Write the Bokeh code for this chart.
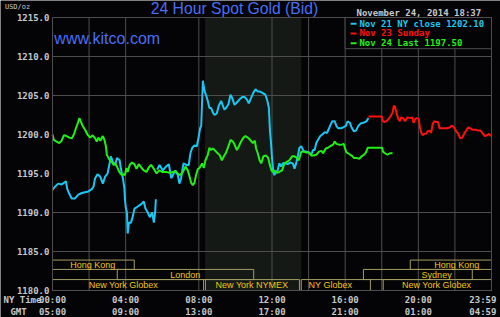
from bokeh.plotting import figure
from bokeh.models import Range1d
from bokeh.core.properties import value
from bokeh.embed import file_html
from bokeh.resources import INLINE

NAN = float("nan")

# ---- data (hours since 00:00 NY time, USD/oz) ----
cyan_hours = [
    0.00, 0.13, 0.31, 0.50, 0.68, 0.73, 0.81, 0.92, 1.05, 1.23,
    1.41, 1.60, 1.78, 1.96, 2.15, 2.24, 2.33, 2.46, 2.61, 2.75,
    2.88, 3.01, 3.12, 3.19, 3.30, 3.43, 3.52, 3.67, 3.74, 3.85,
    3.93, 3.96, 4.00, 4.07, 4.11, 4.18, 4.29, 4.40, 4.48, 4.62,
    4.81, 4.99, 5.08, 5.21, 5.32, 5.45, 5.54, 5.61, 5.65, 5.68,
    5.72, 5.85, 6.03, 6.21, 6.36, 6.49, 6.58, 6.72, 6.85, 6.94,
    7.03, 7.16, 7.31, 7.45, 7.54, 7.64, 7.76, 7.89, 8.00, 8.07,
    8.13, 8.16, 8.22, 8.31, 8.40, 8.49, 8.58, 8.67, 8.77, 8.86,
    8.98, 9.09, 9.22, 9.31, 9.40, 9.49, 9.62, 9.73, 9.82, 9.95,
    10.08, 10.22, 10.37, 10.50, 10.62, 10.73, 10.86, 10.99, 11.10, 11.22,
    11.35, 11.50, 11.64, 11.75, 11.83, 11.89, 11.94, 12.00, 12.07, 12.13,
    12.22, 12.31, 12.40, 12.50, 12.59, 12.73, 12.86, 12.99, 13.14, 13.23,
    13.32, 13.41, 13.50, 13.60, 13.72, 13.87, 14.02, 14.15, 14.24, 14.33,
    14.42, 14.51, 14.64, 14.75, 14.88, 15.01, 15.12, 15.21, 15.30, 15.43,
    15.52, 15.61, 15.74, 15.89, 16.04, 16.13, 16.26, 16.35, 16.48, 16.59,
    16.72, 16.84, 16.99, 17.17, 17.27]
cyan_values = [
    1192.9, 1193.3, 1193.7, 1193.6, 1193.9, 1194.0, 1193.0, 1192.4, 1191.8, 1191.8,
    1192.3, 1192.5, 1192.6, 1192.7, 1193.0, 1193.3, 1194.4, 1194.9, 1194.6, 1193.7,
    1194.6, 1195.0, 1196.3, 1197.2, 1196.5, 1196.1, 1197.0, 1196.7, 1195.6, 1194.4,
    1193.1, 1191.8, 1190.7, 1190.0, 1187.3, 1188.7, 1188.7, 1189.6, 1190.5, 1190.7,
    1191.0, 1191.4, 1190.5, 1190.0, 1189.4, 1190.0, 1188.7, 1190.0, 1191.7, NAN,
    1195.5, 1196.1, 1195.4, 1195.9, 1196.2, 1194.4, 1194.8, 1195.4, 1194.8, 1193.7,
    1194.4, 1196.3, 1196.1, 1196.1, 1197.6, 1198.3, 1198.6, 1198.5, 1199.8, 1200.8,
    1201.1, 1203.0, 1206.9, 1205.6, 1205.0, 1204.3, 1203.4, 1203.4, 1202.8, 1202.5,
    1202.7, 1203.7, 1204.3, 1203.7, 1203.2, 1203.4, 1203.9, 1205.1, 1204.7, 1203.8,
    1204.1, 1204.5, 1204.8, 1204.8, 1204.5, 1204.0, 1204.7, 1205.4, 1205.8, 1205.5,
    1205.5, 1205.3, 1205.1, 1204.3, 1203.4, 1200.4, 1199.1, 1197.0, 1195.2, 1194.8,
    1195.2, 1195.4, 1196.3, 1195.9, 1196.3, 1196.3, 1196.2, 1196.4, 1196.3, 1195.6,
    1196.3, 1197.2, 1198.3, 1198.5, 1197.9, 1197.8, 1197.7, 1197.4, 1198.0, 1198.0,
    1198.9, 1199.3, 1199.8, 1200.0, 1200.3, 1200.2, 1200.8, 1201.3, 1201.7, 1201.7,
    1201.1, 1200.8, 1200.8, 1200.9, 1201.1, 1201.7, 1201.5, 1200.9, 1200.4, 1200.5,
    1201.1, 1201.4, 1201.5, 1201.7, 1202.1]

red_hours = [
    17.27, 18.00, 18.04, 18.13, 18.26, 18.37, 18.50, 18.59, 18.66, 18.73,
    18.81, 18.90, 18.99, 19.06, 19.17, 19.28, 19.41, 19.54, 19.65, 19.74,
    19.83, 19.91, 20.02, 20.09, 20.15, 20.24, 20.33, 20.42, 20.51, 20.61,
    20.70, 20.79, 20.88, 20.97, 21.08, 21.16, 21.30, 21.43, 21.56, 21.71,
    21.80, 21.89, 21.98, 22.07, 22.18, 22.29, 22.40, 22.53, 22.62, 22.72,
    22.84, 22.99, 23.14, 23.27, 23.39, 23.50, 23.63, 23.76, 23.87, 23.96]
red_values = [
    1202.3, 1202.3, 1201.8, 1201.6, 1201.7, 1202.0, 1202.4, 1202.8, 1203.7, 1203.5,
    1202.8, 1202.0, 1201.7, 1202.2, 1202.1, 1201.7, 1202.2, 1202.1, 1202.2, 1201.5,
    1202.0, 1202.1, 1202.0, 1200.9, 1200.3, 1199.9, 1200.1, 1200.1, 1200.4, 1200.5,
    1200.2, 1201.4, 1201.7, 1201.6, 1201.6, 1200.8, 1200.8, 1200.8, 1200.8, 1200.9,
    1201.1, 1201.1, 1200.8, 1200.4, 1200.1, 1199.5, 1199.6, 1200.2, 1200.5, 1200.9,
    1200.8, 1200.6, 1200.6, 1200.5, 1200.5, 1200.2, 1199.8, 1199.9, 1200.1, 1199.8]

green_hours = [
    0.00, 0.07, 0.22, 0.37, 0.50, 0.62, 0.77, 0.92, 1.05, 1.17,
    1.28, 1.39, 1.47, 1.54, 1.65, 1.78, 1.91, 2.06, 2.20, 2.33,
    2.42, 2.51, 2.61, 2.75, 2.84, 2.92, 2.97, 3.06, 3.16, 3.27,
    3.34, 3.43, 3.52, 3.61, 3.71, 3.80, 3.89, 3.96, 4.04, 4.11,
    4.22, 4.35, 4.48, 4.59, 4.72, 4.84, 4.99, 5.14, 5.27, 5.39,
    5.54, 5.69, 5.82, 6.00, 6.21, 6.40, 6.58, 6.72, 6.85, 6.98,
    7.13, 7.27, 7.40, 7.49, 7.58, 7.67, 7.76, 7.85, 7.95, 8.04,
    8.18, 8.27, 8.36, 8.49, 8.58, 8.67, 8.77, 8.86, 8.98, 9.13,
    9.26, 9.37, 9.49, 9.62, 9.73, 9.86, 9.95, 10.08, 10.19, 10.31,
    10.44, 10.55, 10.68, 10.81, 10.95, 11.06, 11.13, 11.22, 11.32, 11.41,
    11.53, 11.68, 11.79, 11.86, 11.97, 12.04, 12.13, 12.26, 12.40, 12.55,
    12.68, 12.81, 12.95, 13.10, 13.23, 13.36, 13.47, 13.60, 13.72, 13.87,
    14.02, 14.15, 14.28, 14.42, 14.57, 14.70, 14.79, 14.94, 15.06, 15.19,
    15.34, 15.43, 15.52, 15.67, 15.80, 15.93, 15.98, 16.07, 16.22, 16.35,
    16.48, 16.62, 16.77, 16.90, 17.03, 17.14, 17.23, 17.36, 18.02, 18.07,
    18.18, 18.31, 18.44, 18.59]
green_values = [
    1200.0, 1199.3, 1199.1, 1198.9, 1199.2, 1199.9, 1199.8, 1199.6, 1199.5, 1200.0,
    1200.8, 1201.5, 1202.1, 1201.7, 1201.1, 1200.6, 1200.0, 1199.6, 1199.9, 1199.5,
    1199.1, 1199.6, 1199.2, 1199.8, 1199.3, 1198.5, 1197.4, 1197.0, 1196.6, 1196.4,
    1196.1, 1196.3, 1195.9, 1195.4, 1195.0, 1194.8, 1194.9, 1194.8, 1195.7, 1195.2,
    1196.1, 1196.4, 1196.2, 1195.6, 1196.2, 1195.8, 1195.4, 1195.2, 1195.8, 1196.1,
    1195.6, 1195.0, 1195.4, 1195.2, 1195.2, 1195.1, 1195.2, 1195.3, 1195.0, 1194.8,
    1195.2, 1195.9, 1195.4, 1194.6, 1193.8, 1193.5, 1193.8, 1194.8, 1195.6, 1195.7,
    1196.3, 1195.7, 1196.7, 1197.4, 1198.3, 1198.0, 1198.2, 1198.0, 1197.7, 1197.4,
    1196.7, 1197.2, 1197.7, 1198.5, 1199.3, 1199.1, 1198.7, 1198.0, 1198.5, 1199.1,
    1199.6, 1199.8, 1199.6, 1199.3, 1198.9, 1199.2, 1198.2, 1197.6, 1196.7, 1196.3,
    1197.2, 1197.3, 1197.0, 1196.3, 1195.4, 1195.2, 1195.4, 1195.1, 1195.2, 1195.4,
    1196.3, 1196.5, 1196.7, 1197.2, 1197.2, 1197.0, 1196.7, 1197.8, 1197.8, 1197.7,
    1197.7, 1197.3, 1197.3, 1197.4, 1197.8, 1197.9, 1197.6, 1198.2, 1198.3, 1198.5,
    1198.7, 1199.1, 1198.8, 1198.7, 1198.7, 1198.8, 1198.3, 1197.7, 1197.5, 1197.3,
    1197.0, 1197.0, 1196.9, 1197.2, 1197.4, 1197.7, 1198.3, 1198.3, 1198.3, 1197.8,
    1197.6, 1197.4, 1197.6, 1197.6]

series_names = ["Nov 21 NY close 1202.10", "Nov 23 Sunday", "Nov 24 Last 1197.50"]
series_colors = ["#18c8f4", "#ff1010", "#20f014"]

# market sessions (hours) and their row (1 = top row)
session_names = ["Hong Kong", "Hong Kong", "London", "Sydney",
                 "New York Globex", "New York NYMEX", "NY Globex", "New York Globex"]
session_start = [0.0, 19.56, 3.54, 17.0, 0.0, 8.36, 13.6, 18.08]
session_end = [4.47, 24.0, 11.0, 22.95, 8.26, 13.5, 17.38, 24.0]
session_row = [1, 1, 2, 2, 3, 3, 3, 3]
session_label_x = [2.2, 22.1, 7.26, 21.0, 3.87, 10.9, 15.19, 21.0]
nymex_shade = [8.34, 13.6]

y_ticks = [1180, 1185, 1190, 1195, 1200, 1205, 1210, 1215]
y_grid = [1185, 1190, 1205, 1210]
x_grid = [2, 4, 8, 12, 14, 16, 18, 20, 22]
x_ticks = [0, 4, 8, 12, 16, 20, 23.53]
ny_labels = ["00:00", "04:00", "08:00", "12:00", "16:00", "20:00", "23:59"]
gmt_labels = ["05:00", "09:00", "13:00", "17:00", "21:00", "01:00", "04:59"]
row_titles = ["NY Time", "GMT"]

X0, X1 = 0, 24            # plotted hours
Y0, Y1 = 1180, 1215       # plotted price range
ROW1_Y, ROW2_Y = 1178.72, 1177.24   # centre lines of the two time rows

BG = "#040406"
GRID = "#4e4e4e"
TXT = "#c8c8c8"
MONO = "DejaVu Sans Mono"
BLUE = "#4b6ef5"

# frame spans the whole canvas; chart area is 0..24 h x 1180..1215 USD
p = figure(width=500, height=317, title=None, output_backend="svg", toolbar_location=None,
           x_range=Range1d(-2.843, 24.492), y_range=Range1d(1176.538, 1217.179),
           x_axis_location=None, y_axis_location=None, min_border=0)
p.grid.visible = False
p.outline_line_color = None
p.background_fill_color = BG
p.border_fill_color = BG

# NYMEX shaded period
p.quad(left=[nymex_shade[0]], right=[nymex_shade[1]], bottom=[Y0], top=[Y1],
       fill_color="#151915", line_color=None)

# grid lines
p.segment(x0=x_grid, x1=x_grid, y0=[Y0] * len(x_grid), y1=[Y1] * len(x_grid),
          line_color=GRID, line_width=1)
p.segment(x0=[X0] * len(y_grid), x1=[X1] * len(y_grid), y0=y_grid, y1=y_grid,
          line_color=GRID, line_width=1)

# session boxes
row_bottom = {1: 1182.7, 2: 1181.4, 3: 1180.0}
row_top = {1: 1183.9, 2: 1182.7, 3: 1181.4}
p.quad(left=session_start, right=session_end,
       bottom=[row_bottom[r] for r in session_row], top=[row_top[r] for r in session_row],
       fill_alpha=0, line_color="#a39c62", line_width=1)
p.text(x=session_label_x, y=[(row_bottom[r] + row_top[r]) / 2 for r in session_row],
       text=session_names, text_font=value("Liberation Sans"), text_font_size="9px",
       text_color="#f2c410", text_align="center", text_baseline="middle")

# data lines
p.line(cyan_hours, cyan_values, line_color=series_colors[0], line_width=2)
p.line(red_hours, red_values, line_color=series_colors[1], line_width=2)
p.line(green_hours, green_values, line_color=series_colors[2], line_width=2)

# legend box
p.quad(left=[16], right=[X1], bottom=[1211], top=[Y1], fill_color=BG, line_color=GRID)
leg_y = [1214.2, 1212.95, 1211.7]
p.segment(x0=[16.3] * 3, x1=[16.62] * 3, y0=leg_y, y1=leg_y, line_color=series_colors, line_width=2)
p.text(x=[16.78] * 3, y=leg_y, text=series_names, text_color=series_colors,
       text_font=value(MONO), text_font_style="bold", text_font_size="9px",
       text_baseline="middle", text_align="left")

# chart frame
p.quad(left=[X0], right=[X1], bottom=[Y0], top=[Y1], fill_alpha=0, line_color=GRID)

# y tick labels
p.text(x=[-0.17] * len(y_ticks), y=[t + 0.05 for t in y_ticks], text=["%.1f" % t for t in y_ticks],
       text_color=TXT, text_font=value(MONO), text_font_style="bold", text_font_size="9px",
       text_align="right", text_baseline="middle")

# x tick labels: NY time row and GMT row
p.text(x=x_ticks, y=[ROW1_Y] * len(x_ticks), text=ny_labels,
       text_color=TXT, text_font=value(MONO), text_font_style="bold", text_font_size="9px",
       text_align="center", text_baseline="middle")
p.text(x=x_ticks, y=[ROW2_Y] * len(x_ticks), text=gmt_labels,
       text_color=TXT, text_font=value(MONO), text_font_style="bold", text_font_size="9px",
       text_align="center", text_baseline="middle")
p.text(x=[-2.68, -2.30], y=[ROW1_Y, ROW2_Y], text=row_titles,
       text_color=TXT, text_font=value(MONO), text_font_style="bold", text_font_size="9px",
       text_align="left", text_baseline="middle")

# header texts
p.text(x=[9.95], y=[1216.17], text=["24 Hour Spot Gold (Bid)"], text_align="center",
       text_baseline="middle", text_font=value("Liberation Sans"), text_font_size="15.7px",
       text_color=BLUE)
p.text(x=[0.1], y=[1212.36], text=["www.kitco.com"], text_align="left",
       text_baseline="middle", text_font=value("Liberation Sans"), text_font_size="16px",
       text_color=BLUE)
p.text(x=[-2.6], y=[1216.35], text=["USD/oz"], text_align="left",
       text_baseline="middle", text_font=value(MONO), text_font_size="7px",
       text_color=TXT)
p.text(x=[16.62], y=[1215.59], text=["November 24, 2014 18:37"], text_align="left",
       text_baseline="middle", text_font=value(MONO), text_font_style="bold",
       text_font_size="9px", text_color=TXT)

open("out.html", "w").write(file_html(p, INLINE))
